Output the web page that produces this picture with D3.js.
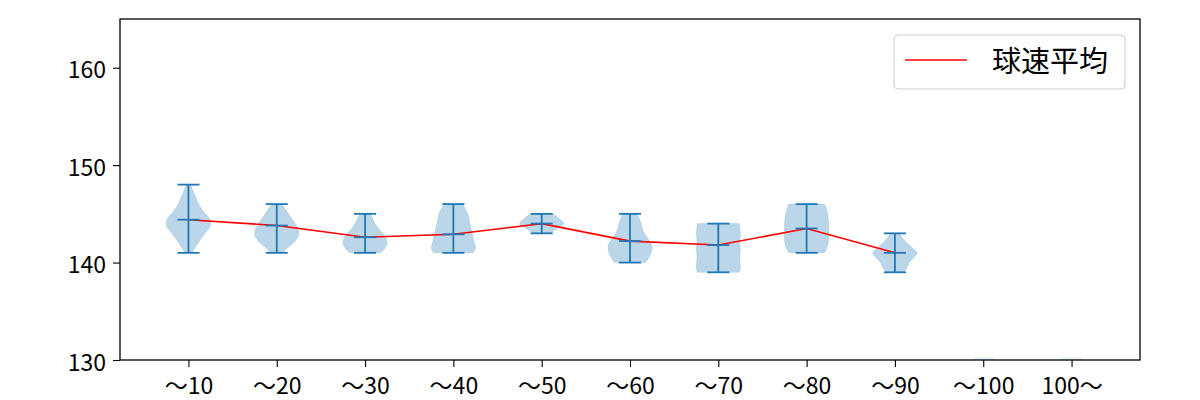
<!DOCTYPE html>
<html><head><meta charset="utf-8">
<script src="https://cdn.jsdelivr.net/npm/d3@7"></script>
<style>body{margin:0;background:#fff}</style>
</head><body><svg id="c" width="1200" height="400"></svg>
<script>
const categories = ["〜10","〜20","〜30","〜40","〜50","〜60","〜70","〜80","〜90","〜100","100〜"];
const mins  = [141,141,141,141,143,140,139,141,139,null,null];
const maxs  = [148,146,145,146,145,145,144,146,143,null,null];
const means = [144.4,143.8,142.6,142.9,144.0,142.2,141.8,143.5,141.0,null,null];
// relative violin half-widths, sampled evenly from min to max
const profiles = [
  [0.15,0.35,0.55,0.78,1.0,0.95,0.7,0.48,0.35,0.22,0.1],
  [0.25,0.55,0.85,1.0,0.95,0.8,0.6,0.42,0.2],
  [0.7,0.9,1.0,0.95,0.8,0.6,0.45,0.35,0.22],
  [0.9,1.0,0.95,0.9,0.85,0.8,0.75,0.7,0.65,0.55,0.4],
  [0.4,0.7,1.0,0.8,0.5],
  [0.7,0.85,0.95,1.0,0.95,0.8,0.65,0.55,0.5,0.42,0.33],
  [0.95,1.0,0.98,0.97,0.98,1.0,0.97,0.98,1.0,0.97,0.95],
  [0.8,0.92,0.98,1.0,1.0,1.0,1.0,0.98,0.95,0.9,0.8],
  [0.4,0.55,0.65,0.85,1.0,0.8,0.55,0.35,0.2],
  [],[]
];
const yTicks = [130,140,150,160];
const legendLabel = "球速平均";

const svg = d3.select("#c");
const L=120,R=1140,T=19,B=360;
const x = d3.scaleLinear().domain([0.225,11.775]).range([L,R]);
const y = d3.scaleLinear().domain([130,165]).range([B,T]);
const blue="#1f77b4";
const font="'Noto Sans CJK JP', sans-serif";

const g = svg.append("g");
const halfW = 0.25;
categories.forEach((c,i)=>{
  const pos=i+1;
  const p=profiles[i];
  if(!p.length){
    g.append("line").attr("x1",x(pos-0.12)).attr("x2",x(pos+0.12)).attr("y1",y(130)-1).attr("y2",y(130)-1)
     .attr("stroke",blue).attr("stroke-opacity",0.3).attr("stroke-width",1);
    return;
  }
  const n=p.length;
  const pts=p.map((w,k)=>({v:mins[i]+(maxs[i]-mins[i])*k/(n-1),w}));
  const right=pts.map(d=>[x(pos+d.w*halfW),y(d.v)]);
  const left=pts.slice().reverse().map(d=>[x(pos-d.w*halfW),y(d.v)]);
  const lineGen=d3.line().curve(d3.curveCatmullRom);
  const path = lineGen(right)+"L"+lineGen(left).slice(1)+"Z";
  g.append("path").attr("d",path).attr("fill",blue).attr("fill-opacity",0.3).attr("stroke",blue).attr("stroke-opacity",0.3).attr("stroke-width",0.5);
});
// means line
const meanData = means.map((m,i)=>({m,pos:i+1})).filter(d=>d.m!==null);
g.append("path").datum(meanData).attr("fill","none").attr("stroke","red").attr("stroke-width",1.6)
 .attr("d",d3.line().x(d=>x(d.pos)).y(d=>y(d.m)));
// bars and caps
categories.forEach((c,i)=>{
  if(mins[i]===null) return;
  const pos=i+1, cw=0.125;
  g.append("line").attr("x1",x(pos)).attr("x2",x(pos)).attr("y1",y(mins[i])).attr("y2",y(maxs[i])).attr("stroke",blue).attr("stroke-width",1.8);
  [mins[i],maxs[i],means[i]].forEach(v=>{
    g.append("line").attr("x1",x(pos-cw)).attr("x2",x(pos+cw)).attr("y1",y(v)).attr("y2",y(v)).attr("stroke",blue).attr("stroke-width",1.8);
  });
});

// axes
const xa = svg.append("g").attr("transform",`translate(0,${B})`)
  .call(d3.axisBottom(x).tickValues(d3.range(1,12)).tickFormat(d=>categories[d-1]).tickSizeOuter(0).tickSize(7).tickPadding(7));
const ya = svg.append("g").attr("transform",`translate(${L},0)`)
  .call(d3.axisLeft(y).tickValues(yTicks).tickSizeOuter(0).tickSize(7).tickPadding(7));
[xa,ya].forEach(a=>{a.select(".domain").remove();a.selectAll("line").attr("stroke","#000").attr("stroke-width",1.1);
  a.selectAll("text").attr("font-family",font).attr("font-size",23).attr("fill","#000");});
xa.selectAll("text").attr("y",23.5).attr("dy",0).attr("dominant-baseline","central");
ya.selectAll("text").attr("dy",0).attr("dominant-baseline","central");
svg.append("rect").attr("x",L).attr("y",T).attr("width",R-L).attr("height",B-T).attr("fill","none").attr("stroke","#000").attr("stroke-width",1.3);

// legend
const lg=svg.append("g");
lg.append("rect").attr("x",894).attr("y",35).attr("width",231).attr("height",54).attr("rx",4)
  .attr("fill","#fff").attr("fill-opacity",0.8).attr("stroke","#ccc").attr("stroke-width",1);
lg.append("line").attr("x1",905).attr("x2",967).attr("y1",60).attr("y2",60).attr("stroke","red").attr("stroke-width",1.6);
lg.append("text").attr("x",992).attr("y",59).attr("dominant-baseline","central").attr("font-family",font).attr("font-size",29).attr("fill","#000").text(legendLabel);
</script></body></html>
